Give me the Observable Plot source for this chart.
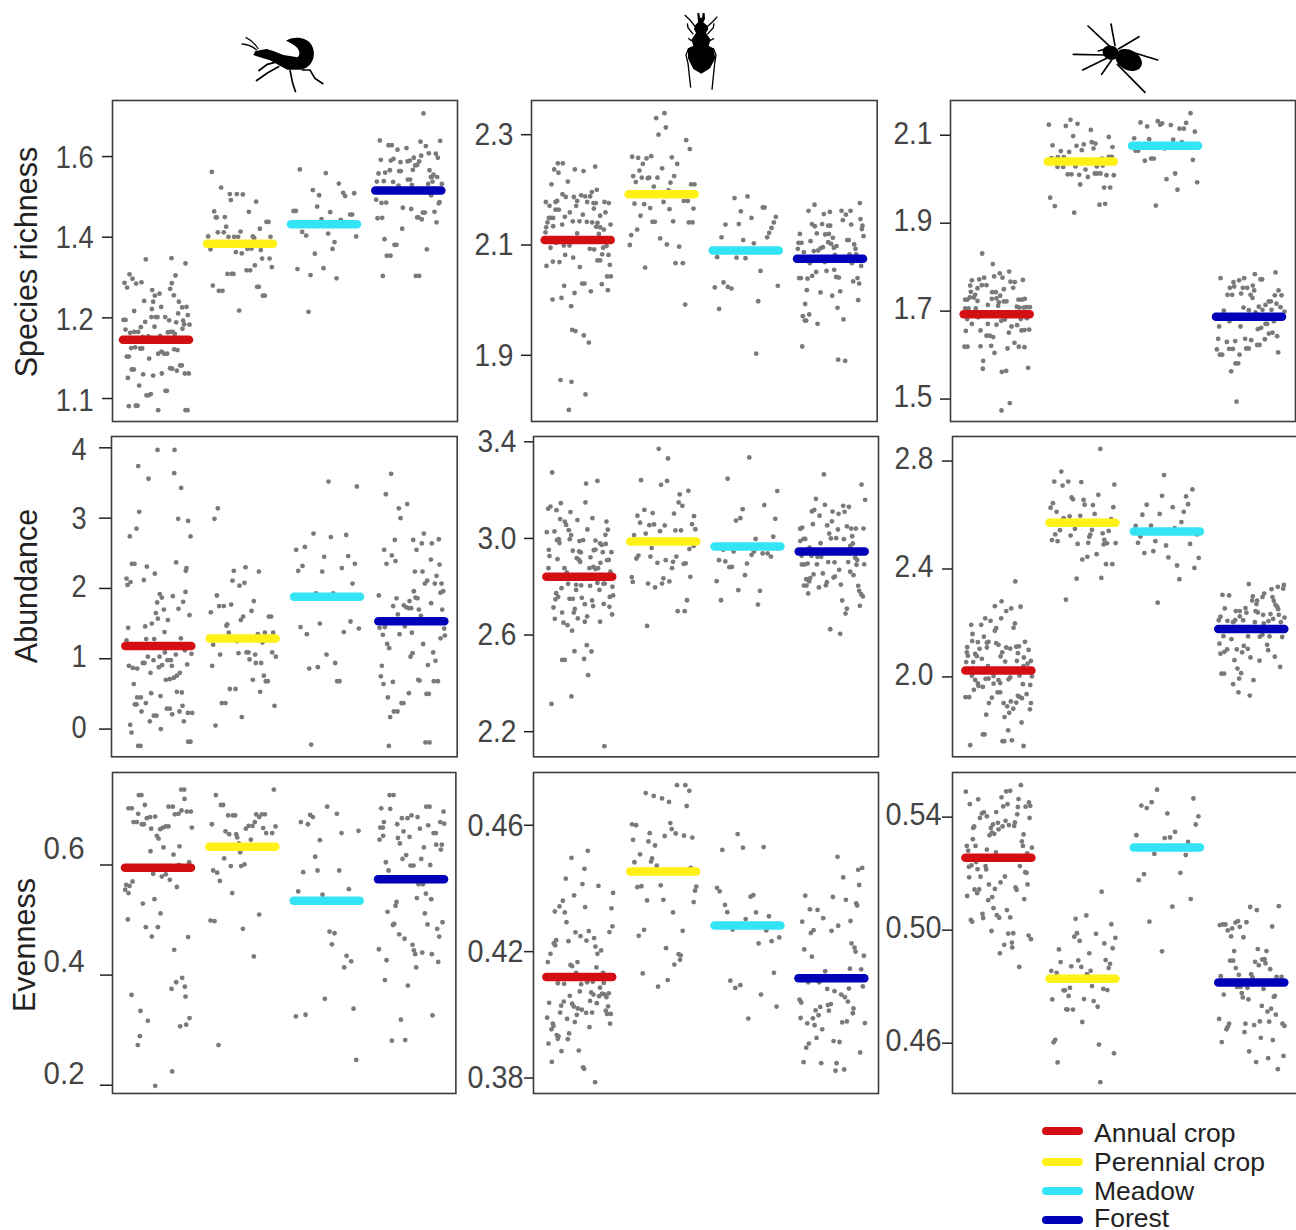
<!DOCTYPE html>
<html><head><meta charset="utf-8">
<script src="https://cdn.jsdelivr.net/npm/d3@7"></script>
<script src="https://cdn.jsdelivr.net/npm/@observablehq/plot@0.6"></script>
<style>
html,body{margin:0;padding:0;background:#fff;width:1296px;height:1230px;overflow:hidden}
#page{position:relative;width:1296px;height:1230px;overflow:hidden}
#page>svg{position:absolute}
.ytitle{position:absolute;font:30.5px "Liberation Sans",Arial,sans-serif;color:#222;white-space:nowrap;transform:translate(-50%,-50%) rotate(-90deg)}
.lg{position:absolute;font:26.5px/20px "Liberation Sans",Arial,sans-serif;color:#222;white-space:nowrap;left:1094px}
.sw{position:absolute;left:1042px;width:41px;height:8px;border-radius:4px}
</style></head><body><div id="page"></div>
<script>
const groups=["Annual crop","Perennial crop","Meadow","Forest"];
const groupColors=["#d40f14","#fff016","#33e4f4","#0000b8"];
const rowTitles=["Species richness","Abundance","Evenness"];

const richnessRove=[13.5,1.345,21.2,1.348,25.4,1.335,8.6,1.308,9.5,1.297,7.1,1.287,7.9,1.275,10.6,1.285,12.2,1.288,22.4,1.305,21.3,1.286,20.8,1.272,15.4,1.269,17.6,1.26,16.2,1.255,21.9,1.256,13,1.242,15.7,1.24,23.4,1.24,15.3,1.222,18.1,1.227,24.4,1.226,25.7,1.227,10,1.217,23.2,1.211,26.1,1.207,6.8,1.195,7.4,1.195,15.2,1.202,16.5,1.202,17,1.202,19.3,1.202,20.5,1.194,22.6,1.189,24.7,1.193,13.3,1.19,12,1.177,16.1,1.178,25,1.184,26.6,1.183,24.5,1.173,7.4,1.171,8.8,1.163,10,1.165,11.2,1.165,20.1,1.164,20.8,1.165,21.6,1.165,22.2,1.16,17.8,1.155,14.2,1.154,12.6,1.153,9.1,1.125,10.3,1.127,11.8,1.124,12.4,1.124,22,1.122,23,1.12,17.2,1.111,18.2,1.116,19,1.111,19.9,1.111,7.8,1.104,8.4,1.104,14.5,1.099,23.8,1.082,24.3,1.082,20.8,1.075,21.4,1.074,22.8,1.069,9.3,1.072,9.9,1.072,12.7,1.06,15.7,1.057,18.3,1.062,25.2,1.062,26.4,1.062,8.1,1.051,11.5,1.032,19.4,1.019,19.8,1.019,15,1.011,14.3,1.008,13.7,1.008,8.4,.981,10.5,.982,11,.982,17.2,.971,25.4,.971,26,.971,
33.3,1.562,36.1,1.523,38.7,1.507,40.8,1.507,42.6,1.506,39,1.492,46.6,1.488,34,1.464,34.5,1.449,34.8,1.449,37.2,1.45,44.4,1.463,37.6,1.426,49.7,1.438,50.3,1.438,47.7,1.421,35.1,1.412,36.9,1.412,41.9,1.414,32.2,1.402,38.3,1.401,40,1.401,41.2,1.401,45.6,1.402,46,1.398,50.9,1.401,32.9,1.37,40.5,1.363,42.3,1.36,44,1.371,45.2,1.372,48,1.368,48.4,1.347,50.6,1.347,51.3,1.326,46.2,1.33,43.7,1.318,44.8,1.318,38,1.309,39.3,1.309,39.8,1.309,33.6,1.28,35.4,1.267,36.5,1.267,46.9,1.277,47.4,1.277,48.6,1.255,49.2,1.255,41.5,1.218,
59.7,1.568,67.5,1.559,71.4,1.533,63.6,1.517,65.5,1.504,72.7,1.51,73.3,1.502,76,1.509,64.9,1.476,57.8,1.465,58.5,1.465,68.8,1.462,74.8,1.456,75.4,1.456,66.2,1.445,72,1.443,60.4,1.413,61.6,1.404,68.2,1.409,76.6,1.402,70.1,1.388,69.5,1.371,64.2,1.359,59,1.321,66.8,1.323,62.9,1.306,70.7,1.298,62.3,1.215,
96.8,1.707,83.7,1.64,86.3,1.628,87.3,1.628,95.9,1.637,97.5,1.626,101.8,1.639,89,1.617,91.7,1.621,98.4,1.608,100.5,1.607,101.1,1.597,96.1,1.602,84,1.592,87,1.59,87.8,1.594,89.9,1.586,92,1.588,92.7,1.59,93.9,1.597,95.5,1.588,94.9,1.579,94.3,1.578,93.6,1.567,89.5,1.564,90,1.564,86.7,1.566,85.3,1.56,83.3,1.558,98.6,1.566,99.8,1.555,99,1.549,99.4,1.55,100.9,1.549,92.1,1.543,92.8,1.543,84.9,1.539,82.8,1.538,87.7,1.537,99.5,1.538,98.2,1.532,102.3,1.532,93.3,1.53,89.3,1.528,99.1,1.504,82.6,1.493,84.2,1.485,85.6,1.486,101.6,1.487,101.4,1.484,90.6,1.473,93.1,1.47,100.1,1.463,96.6,1.461,97.2,1.461,83,1.447,84.4,1.448,94.9,1.449,95.3,1.449,96.3,1.444,100.7,1.437,90.4,1.421,85.1,1.395,88.1,1.381,88.7,1.381,97.8,1.37,85.8,1.354,86.9,1.354,84.6,1.304,94.5,1.304,95.5,1.304];

const richnessBeetle=[9.7,2.248,11.2,2.248,8.6,2.237,9.9,2.231,14.8,2.237,17.4,2.234,20.9,2.242,7.8,2.21,12.7,2.215,21.4,2.2,19.9,2.196,11.1,2.192,12.1,2.187,14.5,2.187,16.7,2.19,17.9,2.188,19.4,2.188,6.1,2.178,7.2,2.171,9,2.178,9.5,2.18,15.5,2.18,15.2,2.171,18.5,2.178,20.4,2.176,21.1,2.176,23.7,2.178,25,2.176,9,2.164,10,2.164,20.5,2.166,24,2.159,17.2,2.155,11.8,2.151,13.3,2.159,22.4,2.153,7,2.149,7.6,2.149,8.3,2.149,6.6,2.141,8.3,2.134,11,2.137,14.2,2.143,16.2,2.143,18.4,2.142,20,2.141,21.6,2.14,22.4,2.132,21.2,2.133,25.5,2.137,6.2,2.132,6,2.123,15.5,2.121,22,2.12,23.5,2.128,7.5,2.095,9.2,2.104,11.5,2.099,13.2,2.099,19.3,2.093,20.6,2.092,23.3,2.095,24.3,2.098,23,2.083,11.9,2.082,14.3,2.077,8.2,2.07,10.2,2.069,6.3,2.062,16.3,2.06,21.6,2.072,22.4,2.072,25.3,2.064,24.9,2.082,24.5,2.043,25.6,2.043,11.6,2.026,17,2.03,17.7,2.03,22.9,2.029,24.7,2.018,19.6,2.016,14.7,2.013,8.1,2.001,10.8,2.004,13.7,1.989,14,1.946,15,1.944,17.5,1.936,19,1.923,10.5,1.855,13.8,1.852,18,1.829,13,1.801,
41.7,2.339,39.2,2.33,42.1,2.313,39.9,2.3,48.2,2.29,49.3,2.274,32,2.26,33.8,2.258,36.3,2.257,37.7,2.261,43.9,2.259,41,2.239,35.2,2.247,45.5,2.247,34.2,2.235,32.3,2.225,34.9,2.222,36.7,2.221,37.1,2.222,39.6,2.222,44.6,2.225,33.1,2.214,43.5,2.213,38.5,2.206,49.7,2.21,50.7,2.21,42.9,2.199,32.7,2.175,35.6,2.174,37.4,2.167,41.4,2.178,43.2,2.165,47.5,2.18,48.7,2.18,50.4,2.166,34.5,2.153,38.1,2.142,38.8,2.142,44.3,2.143,49,2.141,50.1,2.141,33.5,2.128,31.7,2.118,40.4,2.112,42.4,2.101,31.3,2.1,46.1,2.097,45,2.067,47.2,2.067,35.9,2.059,47.9,1.992,
62.7,2.185,66.6,2.188,64.6,2.161,71.2,2.168,71.7,2.168,75.1,2.151,67.8,2.149,74.5,2.141,60,2.137,64,2.138,73.8,2.131,73.1,2.122,72.5,2.114,58.8,2.114,65.3,2.109,68.5,2.103,57.5,2.078,63.3,2.077,66,2.076,70.5,2.053,56.8,2.023,59.4,2.032,60.7,2.024,61.8,2.021,75.7,2.026,69.8,1.998,58.1,1.984,69.2,1.903,
86.7,2.173,84.9,2.162,89.5,2.156,91.3,2.16,94.8,2.162,97.5,2.162,96.1,2.155,100.3,2.176,100.5,2.147,95.2,2.145,97.7,2.137,101.1,2.135,100.9,2.129,85.9,2.138,86.8,2.134,89,2.138,90.8,2.135,91.4,2.135,82.3,2.12,87.4,2.121,89.9,2.119,91,2.12,101.4,2.116,92.2,2.113,96.5,2.109,97,2.109,85.5,2.107,81.9,2.104,82.8,2.104,90.8,2.105,91.7,2.102,93.3,2.098,92.5,2.095,98.6,2.101,81.7,2.093,83.5,2.087,86.5,2.089,87.8,2.09,88.5,2.094,89.2,2.096,99,2.093,92.8,2.082,99.2,2.083,97.2,2.083,85.3,2.067,89.8,2.069,97.9,2.067,100.7,2.062,87.2,2.051,90.3,2.053,92.6,2.055,93.2,2.042,94,2.041,82.1,2.04,82.6,2.04,84.6,2.039,86,2.044,99.6,2.04,98.3,2.034,100.1,2.03,84.4,2.018,88.5,2.014,92,2.008,94.4,2.016,99.8,2,83.9,1.993,93.6,1.986,85.1,1.974,83.2,1.971,83.8,1.963,84.2,1.963,95.4,1.965,87.6,1.957,83,1.916,93.8,1.892,95.9,1.89];

const richnessSpider=[12.5,1.831,15.7,1.807,17.8,1.786,20.6,1.79,16.1,1.779,18.6,1.776,24.7,1.771,9.4,1.77,11.6,1.772,13.1,1.776,21,1.767,22.3,1.766,8.9,1.758,12.4,1.759,13.8,1.759,19,1.75,21.8,1.753,11.1,1.752,9.1,1.744,15.5,1.743,16.6,1.743,10.4,1.737,17.9,1.735,7.4,1.726,8,1.726,8.8,1.731,10,1.731,11.1,1.723,15.4,1.728,16.8,1.729,19,1.722,19.8,1.722,23.4,1.726,24.4,1.726,25.3,1.728,17.5,1.72,17.3,1.712,14.2,1.714,22.9,1.71,23.7,1.708,25,1.708,25.8,1.709,26.8,1.709,7.4,1.706,8.4,1.706,10.6,1.706,8,1.682,11.3,1.686,25.9,1.684,24.1,1.682,16.8,1.669,18.2,1.678,19.3,1.681,9.4,1.671,14.2,1.671,21.3,1.665,23,1.668,7.6,1.655,12,1.656,20.5,1.651,24.3,1.656,25.2,1.657,26.6,1.658,13.8,1.644,14.8,1.644,15.8,1.641,22.2,1.628,7.2,1.619,8.1,1.619,12,1.62,15.2,1.621,20.1,1.615,23.5,1.619,25.2,1.618,16.2,1.605,12.8,1.587,12.7,1.569,18.4,1.562,19.7,1.564,26.3,1.571,20.8,1.491,18.3,1.474,
32.5,2.124,39,2.135,37.6,2.121,41.1,2.126,45.1,2.112,39.8,2.098,50.5,2.096,33.6,2.077,40.8,2.076,43,2.079,45.4,2.084,46.5,2.081,45.9,2.07,51.6,2.073,36.1,2.064,38.6,2.062,42.4,2.066,35.2,2.05,37,2.05,33.3,2.048,48.5,2.047,50.5,2.051,51.4,2.051,35.1,2.028,36.8,2.028,40.5,2.029,48.7,2.031,46.9,2.029,38.2,2.011,39.3,2.011,41.6,2.01,43.5,2.022,44.2,2.005,46.3,2.013,47,2.013,48,2.013,49.8,2.009,52,2.009,41.9,1.988,49.1,1.981,50.9,1.981,32.9,1.958,34.3,1.939,47.7,1.942,49.4,1.944,40.1,1.924,
75,2.15,60,2.129,65.2,2.132,65.9,2.124,66.5,2.127,69.1,2.123,62,2.12,71.7,2.115,73,2.115,73.7,2.128,76.3,2.108,58.1,2.093,62.6,2.091,69.8,2.09,72.4,2.084,67.2,2.07,58.5,2.065,59.3,2.065,61.3,2.042,63.2,2.047,64,2.047,75.7,2.044,67.8,2,70.4,2.013,77,1.993,71.1,1.976,64.6,1.94,
84,1.775,87.9,1.766,89.6,1.77,91.1,1.775,94.3,1.784,96,1.772,96.5,1.772,100.5,1.788,86.8,1.753,88.1,1.756,90.7,1.753,92,1.753,93.7,1.758,94.1,1.747,101.4,1.747,86.1,1.737,87.5,1.737,90.2,1.74,93,1.737,93.6,1.73,100.3,1.736,102.3,1.736,98.5,1.722,99.1,1.722,100.8,1.717,97.5,1.714,90.9,1.708,92.5,1.702,95.5,1.71,96.6,1.703,99.3,1.703,102,1.709,103.2,1.699,85,1.701,94.5,1.697,86.7,1.677,90,1.665,97.5,1.671,98,1.671,96.2,1.662,95.2,1.659,100,1.677,83.6,1.665,98.5,1.649,99.6,1.651,101,1.643,83.3,1.637,91.4,1.637,93.2,1.634,85.9,1.63,88.4,1.632,97.3,1.636,95,1.623,95.7,1.623,86.6,1.614,87.7,1.614,91.7,1.615,92.5,1.615,82.9,1.613,83.8,1.601,84.5,1.601,89.7,1.601,101.3,1.606,88.5,1.581,89.3,1.581,87.2,1.563,88.8,1.494];

const abundanceRove=[17.1,3.97,22.2,3.97,11.3,3.74,22.1,3.64,14.4,3.56,24.2,3.43,11.6,3.09,23.3,2.99,26.3,2.96,10.8,2.85,8.8,2.74,27,2.74,22.7,2.37,9.4,2.35,10.2,2.35,13.9,2.31,25.8,2.29,25.6,2.25,16.3,2.21,7.8,2.14,9,2.09,8.1,2.05,13,2.12,17.8,1.92,18.4,1.87,21.7,1.89,25.5,1.95,17,1.8,24.8,1.81,19,1.7,23.4,1.71,16.6,1.65,26.7,1.62,17.2,1.57,20.2,1.55,13.4,1.46,15.4,1.5,8.3,1.44,19.2,1.38,13.7,1.28,16.1,1.28,24.1,1.29,7.8,1.26,19.3,1.09,25.3,1.12,27.3,1.07,22.6,1.06,14.2,1.03,17.7,1.03,15.9,.98,12.7,.94,13.2,.94,20.1,.98,21.1,.98,26,.92,8.5,.9,9.7,.87,11,.86,18.5,.91,17.5,.88,21.4,.9,15,.8,23.8,.8,22.9,.76,22,.73,20.8,.71,19.6,.7,10,.64,22.9,.53,24.4,.52,15.2,.51,18,.47,11,.45,12.1,.45,10.3,.35,10.8,.35,13.6,.37,24.6,.33,19.9,.29,20.8,.29,12.3,.25,21.5,.21,23.7,.25,26.2,.23,27.5,.23,16,.19,16.8,.19,14.8,.11,25,.11,8.9,.06,18.1,0,9.3,-.05,11.3,-.24,12,-.24,26.3,-.18,27,-.18,
35.2,3.14,34.2,2.99,40,2.25,43.5,2.3,47.5,2.24,39.6,2.11,41.7,2.04,43.2,2.08,34.9,1.9,46,1.82,35.6,1.75,37,1.75,39.2,1.77,33.1,1.66,45.3,1.68,42.8,1.6,42.1,1.55,50.5,1.6,51.2,1.6,38,1.49,37.8,1.47,38.5,1.37,47.2,1.35,49.3,1.37,51.8,1.37,33.8,1.2,48.6,1.23,41,1.25,35.9,1.06,41.4,1.08,43.8,1.09,44.4,1.09,46.4,1.06,51.5,1.09,52.6,1.03,44.7,.99,46.6,.94,48.2,.94,33.5,.9,49,.76,45.7,.7,49.6,.68,50.2,.68,38.8,.57,40.5,.57,47.9,.53,36.4,.37,37.5,.37,52.2,.33,42.4,.17,34.5,.05,
68.4,3.52,76.9,3.45,63.9,2.78,69.1,2.73,73.7,2.76,58.7,2.55,61.3,2.59,67.1,2.45,74.3,2.46,60.6,2.32,59.3,2.25,66.5,2.24,72.4,2.29,76.3,2.35,75.6,2.07,64.6,1.93,69.8,1.93,60,1.45,65.8,1.5,61.9,1.35,73,1.38,75,1.53,77.5,1.43,67.8,1.06,70.4,.94,62.6,.86,65.2,.88,71,.68,71.7,.68,63.2,-.22,
87.2,3.63,85.6,3.34,92,3.2,89.5,3.14,90,3,88.3,2.69,93.8,2.69,97,2.78,96.4,2.64,99.4,2.64,101.5,2.7,85.1,2.55,94.8,2.55,87.4,2.47,88.5,2.39,85.8,2.35,99.1,2.41,101.7,2.34,94.3,2.24,96.6,2.24,100.8,2.18,98,2.11,97.3,2.07,100.3,2.07,102.3,2.07,94,1.96,102,1.94,102.8,1.96,83.5,1.9,88.8,1.86,94.5,1.87,95.1,1.86,92.7,1.82,99.2,1.79,87.8,1.75,91,1.76,91.8,1.73,92.5,1.72,93.2,1.72,95.5,1.7,102.5,1.7,89.2,1.63,96.1,1.61,83.7,1.44,85.3,1.45,91.3,1.46,84.7,1.34,89.7,1.35,93.4,1.37,103.1,1.43,103.3,1.33,102,1.29,86,1.21,86.6,1.15,96.8,1.21,93.6,1.08,93,1.03,99.8,1.09,100.5,.97,84.4,.9,98.2,.91,84.1,.75,84.9,.64,87.7,.67,95.3,.7,95.7,.69,100,.68,101.2,.68,92.5,.51,97.8,.5,98.5,.5,86.2,.45,90.3,.37,90.9,.37,88,.25,89.1,.25,86.9,.17,86.5,-.24,97.5,-.19,98.7,-.19];

const abundanceBeetle=[8,3.273,18.2,3.227,21.6,3.238,18,3.149,10.6,3.146,6.8,3.123,7.5,3.132,9.3,3.117,13.5,3.109,10.4,3.08,15.6,3.076,20.1,3.084,24.3,3.07,11.8,3.07,12.2,3.056,24.7,3.036,18.6,3.037,13,3.034,6.4,3.026,8.7,3.029,13.7,3.014,24,3.015,9.5,2.993,10,2.997,10.2,2.981,13.3,2.997,16.2,2.989,17.3,2.993,21,2.991,22.4,2.979,22.9,2.973,24.1,2.977,21,2.954,20.5,2.951,7,2.953,14.2,2.949,16.1,2.946,16.6,2.942,23.2,2.943,25.8,2.943,7.2,2.927,9.6,2.914,15.4,2.918,16.1,2.911,16.4,2.903,19.5,2.922,24.5,2.91,25,2.911,22.5,2.899,6.9,2.877,11.7,2.877,19.2,2.877,20.4,2.882,21,2.873,21.8,2.877,12.4,2.859,25.5,2.862,10.8,2.794,12.8,2.812,15.2,2.808,15.2,2.787,16.7,2.806,19.4,2.804,21.6,2.816,23.4,2.812,22.2,2.787,23.8,2.813,26.1,2.8,9.2,2.773,9.8,2.758,9,2.748,13.2,2.75,14.2,2.75,16.9,2.754,20,2.743,25.3,2.758,26.3,2.764,8.4,2.714,17.8,2.728,20.3,2.72,23.5,2.729,25.2,2.717,14.8,2.708,14.5,2.693,11,2.693,26,2.685,8.8,2.667,15.7,2.669,18.5,2.677,17.8,2.655,22.4,2.655,11.4,2.651,12.6,2.641,14,2.618,18.4,2.558,14.7,2.533,19.8,2.532,11,2.497,11.8,2.497,17.6,2.501,18.8,2.434,13.8,2.346,7.8,2.315,23.7,2.14,
40,3.371,42.8,3.331,34.7,3.241,40.7,3.222,42.5,3.238,48.9,3.197,46.3,3.182,46,3.149,47.1,3.135,44.6,3.103,35.7,3.118,38.2,3.105,33.6,3.094,50.6,3.092,34.4,3.065,37.2,3.055,38.6,3.058,41.8,3.054,50,3.059,51,3.038,40.4,3.03,45,3.033,46.7,3.033,36.1,3.02,32.6,3.014,37.9,2.96,49.2,2.956,50.5,2.969,33.9,2.929,33.3,2.917,37.5,2.925,45.3,2.925,42.1,2.91,39.6,2.899,44.3,2.903,44,2.877,47.5,2.895,48.1,2.897,31.9,2.84,49.5,2.841,32.2,2.82,41.4,2.835,43.2,2.822,36.8,2.813,41,2.813,38.9,2.797,48.5,2.744,45.7,2.699,47.8,2.699,36.5,2.638,
67.2,3.335,60.7,3.247,75.6,3.196,71.7,3.138,65.2,3.121,64.5,3.084,63.2,3.074,75,3.081,69.1,2.998,74.4,3.007,62.5,2.946,59.4,2.953,68.6,2.946,67.9,2.932,71.2,2.938,72.7,2.938,73.7,2.925,58.1,2.91,60,2.905,61.2,2.881,62,2.882,66.5,2.896,65.9,2.848,57.4,2.823,63.9,2.786,70.4,2.783,58.7,2.744,69.8,2.726,
89.6,3.265,100.9,3.223,87.2,3.164,102,3.16,89.9,3.139,95.4,3.135,97.1,3.131,86.7,3.118,86,3.112,92.2,3.111,95.8,3.11,94,3.102,88.3,3.094,92,3.071,86.3,3.059,90.6,3.054,82.5,3.04,83.1,3.045,96.5,3.05,97.8,3.041,99.2,3.041,101.5,3.041,93.8,3.037,91.2,3.02,98.1,3.009,91.7,3,93.3,3.001,95.6,2.997,82.5,2.989,83.5,2.998,84,2.998,88.6,2.98,98.3,2.979,97.5,2.969,85.3,2.962,82.9,2.928,85.9,2.928,87.7,2.924,88.8,2.924,99,2.92,99.6,2.911,83,2.892,83.8,2.892,84.7,2.896,87.5,2.893,90.9,2.902,92.8,2.901,96.9,2.902,99.4,2.891,101.7,2.893,94.2,2.87,97.5,2.862,98.5,2.848,86.5,2.851,85.5,2.836,84.3,2.831,92.9,2.842,92.5,2.838,89.3,2.855,90.5,2.819,85.2,2.822,83.6,2.805,84.4,2.805,88.1,2.797,90.2,2.806,94.7,2.809,99.9,2.804,100.2,2.783,100.8,2.769,101.3,2.76,84.9,2.772,95.1,2.743,100.4,2.721,96.5,2.709,96.1,2.689,91.5,2.624,94.5,2.605];

const abundanceSpider=[22.5,2.354,18.4,2.28,16.4,2.262,24.1,2.26,21.3,2.254,19.8,2.244,13.5,2.217,18.3,2.217,15.1,2.208,9.3,2.193,12.3,2.193,22.4,2.198,22,2.182,16.8,2.181,16.4,2.171,9.7,2.159,13.1,2.149,9.6,2.133,11.3,2.129,14.5,2.13,14,2.127,16.8,2.125,17.5,2.119,25.4,2.13,8.1,2.11,14,2.109,11.8,2.104,19.8,2.109,21,2.105,22.8,2.112,23.6,2.113,26.5,2.1,8,2.091,8.3,2.078,10.5,2.085,11,2.077,18.6,2.091,23.3,2.088,18.1,2.076,12.5,2.067,25.1,2.072,7.8,2.055,9.9,2.055,19.5,2.057,23,2.059,27.2,2.059,26.2,2.049,14.3,2.04,25,2.04,9.5,2.004,27.5,2.002,23.8,2.005,10.5,1.989,13.6,1.993,14.5,1.994,16,2.003,17.5,1.988,18,1.977,20.5,1.991,21,1.998,11.3,1.976,11.5,1.966,12.8,1.963,16,1.975,24.8,1.973,27,1.97,10.1,1.952,17.2,1.943,18,1.943,7.6,1.925,8.7,1.925,15.5,1.923,23.3,1.93,23.8,1.926,24.5,1.921,25.9,1.936,14.6,1.903,19,1.903,20.1,1.891,21.2,1.909,22.8,1.905,27.2,1.903,21.9,1.882,26.9,1.88,20.7,1.867,13.8,1.86,19.3,1.851,24.4,1.831,20.4,1.802,12.8,1.787,13.3,1.787,18.7,1.762,19.2,1.762,21.5,1.765,9,1.747,25,1.744,
48,2.845,36.3,2.761,34.2,2.724,38.4,2.724,42.3,2.722,36.7,2.709,52.2,2.713,47.4,2.675,39.4,2.665,39.8,2.658,43,2.656,43.3,2.638,45.8,2.637,33.8,2.644,33.1,2.627,51.9,2.629,34.9,2.612,38.8,2.595,42,2.597,37,2.588,46.3,2.604,51.2,2.585,40.4,2.549,45.5,2.545,35.9,2.544,34.5,2.528,39.1,2.524,45,2.527,44.7,2.519,48.7,2.532,50.5,2.541,49.2,2.508,33.5,2.507,35.2,2.503,41.2,2.493,44.4,2.497,49,2.491,50,2.495,52.6,2.496,46.9,2.455,44.1,2.445,42.6,2.435,49.7,2.418,51.6,2.418,40.9,2.364,48.3,2.367,37.7,2.286,
67.1,2.748,75.6,2.695,66.5,2.671,73.7,2.669,74.3,2.64,61.9,2.638,69.7,2.629,73,2.612,60.6,2.601,65.8,2.604,72.3,2.574,58.6,2.56,63.2,2.561,70.3,2.551,60,2.52,77,2.528,64.5,2.503,59.3,2.497,67.7,2.487,74.9,2.493,63.9,2.466,61.2,2.459,68.4,2.443,77.5,2.441,71,2.413,76.2,2.404,71.7,2.362,65.2,2.275,
92.5,2.344,103,2.341,102.8,2.327,101.2,2.334,99.3,2.325,84.6,2.304,86.6,2.302,97.1,2.309,96.6,2.296,99.6,2.296,93.7,2.298,93.5,2.283,95,2.283,94.8,2.27,100,2.282,100.5,2.267,101,2.26,85.3,2.254,88.6,2.244,89.8,2.244,91.5,2.255,94.5,2.244,95.2,2.239,101.3,2.251,101.5,2.23,103.2,2.22,96.8,2.23,99,2.233,91.8,2.238,89.8,2.224,84,2.223,83.5,2.21,86.1,2.208,88.4,2.21,90.8,2.21,87.8,2.203,94.3,2.203,98.4,2.207,99.8,2.215,102.1,2.203,97,2.198,84.9,2.151,92.3,2.15,95.8,2.149,96.6,2.156,98.7,2.15,102.5,2.148,87.3,2.14,83.7,2.123,91,2.115,98,2.119,92.2,2.104,86,2.102,85.2,2.093,88.9,2.102,84,2.086,90.5,2.091,98.3,2.099,100.3,2.075,93,2.072,95.7,2.06,88.2,2.062,101.9,2.037,89.1,2.031,90.2,2.014,84.3,2.012,85.1,2.012,89.6,1.994,93.9,1.988,87.8,1.973,89.4,1.943,92.8,1.931];

const evennessRove=[24.3,.737,25.2,.737,11.6,.727,12.4,.727,25.3,.72,13.4,.709,8.5,.703,9.5,.703,20.5,.706,21.8,.706,24.4,.699,22.4,.692,23.5,.693,26,.697,27.2,.697,11.4,.693,14,.685,15,.687,16.5,.688,10,.678,11,.678,12.5,.674,13.1,.674,15.3,.666,18,.665,18.8,.668,19.7,.67,20.5,.67,27.5,.668,17,.653,17.5,.648,19,.632,23.8,.634,15.1,.625,22,.619,26.7,.605,23.6,.6,18,.598,15.9,.584,18.5,.579,19.7,.583,20.9,.573,9.7,.57,7.8,.564,8.8,.562,23,.56,7.5,.555,8.5,.549,12.8,.53,16.3,.538,18.1,.512,8.3,.501,13.7,.487,17.3,.487,15.5,.47,26.4,.469,22.2,.446,24.6,.395,22.8,.387,21.4,.375,25.4,.379,9.4,.364,25.6,.361,12.1,.335,14.3,.317,26.8,.322,24,.307,25.8,.31,11.9,.289,11.3,.273,21.6,.225,16.5,.199,
52.1,.737,34.7,.727,36.2,.709,36.9,.709,38.4,.69,39.8,.69,40.5,.69,46.8,.692,47.7,.687,48.5,.692,49.4,.692,33.5,.674,46.4,.678,44.5,.671,45.7,.671,43.7,.666,48.9,.667,52.6,.67,37.6,.661,38.7,.656,40.8,.656,41.1,.65,49.8,.658,51.6,.658,45.2,.646,41.6,.639,42,.623,37.2,.612,39.2,.598,42.3,.598,43.3,.601,33.9,.59,35.1,.586,35.9,.571,39.6,.549,33.1,.499,34.3,.498,47.7,.51,42.8,.484,46.1,.434,35.5,.273,
68.1,.706,63,.691,63.8,.687,71,.693,60.2,.678,62.3,.674,77.5,.662,72.4,.658,65.9,.645,64.5,.615,60.9,.587,65.2,.59,71.7,.59,59.4,.552,66.7,.546,74.6,.556,68.8,.479,70.3,.476,69.5,.456,73.9,.435,75.3,.425,73.2,.414,67.4,.357,76,.339,58.7,.325,61.6,.328,76.8,.246,
86.8,.727,88,.727,97.8,.706,98.8,.706,84.3,.703,87,.702,103,.697,90.5,.685,92.2,.685,93.4,.69,95.2,.687,85.1,.678,89.1,.674,98.4,.672,102,.678,103.2,.675,84,.668,84.8,.668,95.9,.666,91,.661,100,.658,100.7,.658,84.9,.653,83.8,.646,89.3,.649,92.8,.651,89.9,.639,97.1,.632,100.8,.637,102.5,.637,102.2,.628,91.8,.618,90.7,.611,96.3,.611,85.7,.605,93.1,.599,94,.599,99,.6,86.5,.59,95.5,.565,96.8,.565,97.7,.548,95,.54,99.3,.538,88.9,.533,88.6,.526,86.2,.515,97.4,.512,88.2,.493,87.8,.491,98.2,.492,102.7,.496,101.1,.484,89.7,.474,91.3,.466,101.7,.47,93.7,.455,94.1,.445,94.5,.438,83.6,.447,96.6,.441,99.5,.438,85.9,.427,101.4,.424,94.8,.414,85.4,.391,92.3,.381,90.2,.319,99.7,.327,87.5,.281,91.5,.282];

const evennessBeetle=[18.7,.4519,13.8,.4497,17.7,.4462,12.1,.4431,17.1,.4414,21.9,.4408,26.3,.4386,14.6,.4378,11.2,.4361,10.2,.4343,8.8,.4327,11.8,.4324,17.9,.4341,25.8,.4337,12.3,.4293,26.1,.428,25.2,.4262,15,.4261,16.5,.4249,19,.4265,18.3,.4235,20.6,.4243,12.9,.4233,9.2,.4236,8.5,.4226,8.9,.422,21,.4216,22.7,.4204,21.6,.4193,7.5,.4193,6.7,.4167,13.5,.4158,14,.4154,15.6,.4167,21.3,.415,15.2,.4133,23.3,.4133,9.7,.41,11.6,.4098,16.7,.4097,18.5,.4103,20.2,.4105,23.5,.4101,22.4,.4086,16.3,.4074,19.7,.4071,20.4,.4064,13.3,.406,22.1,.4059,23,.4067,23.7,.4065,25,.4068,24.3,.4056,19.4,.4044,11.5,.4042,7.1,.4038,10.7,.4029,21.4,.4037,14,.4035,14.5,.4026,15.7,.402,16.9,.4016,18.2,.4006,20,.4007,10.4,.4007,24.8,.4027,24.1,.4013,24.5,.4003,25.6,.4003,15.4,.4,12.5,.3987,6.5,.3991,14.8,.3977,25.4,.3972,8.2,.3972,8.4,.3965,7.8,.3954,19.2,.3961,13.1,.3941,9.4,.3936,9.9,.3932,9.7,.3924,12.7,.3923,6.9,.3909,10.8,.3885,16,.3887,7.9,.3851,17.3,.3834,17.6,.3829,20.9,.3787,
45.5,.4727,48,.4727,49.2,.4709,36.1,.4702,38.5,.4693,41,.4685,43.1,.4674,48.4,.4661,32,.4603,33.2,.4600,43.5,.4607,43.9,.4588,37.3,.4575,45.1,.4574,41.8,.4566,47.6,.4567,50.1,.4561,32.3,.4554,36.9,.4549,38.9,.4536,34.4,.4508,38,.4495,37.7,.4485,32.7,.4483,39.4,.4472,49.6,.4465,33.6,.4404,34.8,.4407,40.6,.441,51.3,.4406,50.9,.4393,36.5,.4362,41.4,.4364,50.5,.4357,44.3,.4324,35.6,.4269,34,.425,47.2,.4266,42.2,.4211,46,.4192,46.6,.4188,46.4,.4174,44.7,.4159,35.2,.4131,42.7,.411,39.8,.4089,
63.7,.4572,59.1,.4522,65.3,.4529,71.5,.4531,57.5,.4402,58.3,.4391,67.6,.4374,68.4,.4379,59.9,.4348,60.6,.4325,69.2,.4324,73.1,.4312,66.1,.4303,62.2,.4270,72.3,.4267,76.2,.4245,73.9,.4233,70,.4226,74.6,.4133,61.5,.4108,63,.4085,64.5,.4094,70.7,.4064,75.4,.4026,66.9,.3988,
93.7,.45,101.1,.4465,99.9,.4459,95.4,.4435,100.2,.4411,84,.4377,92.3,.4373,96.2,.4364,99.3,.4353,99.6,.4346,85.4,.4334,87.7,.4332,89.4,.4306,83.1,.4295,97.6,.4297,93.9,.4282,91.9,.4266,86.5,.4268,85.7,.4259,97.9,.4226,98.8,.4213,99.1,.42,83.7,.4207,86,.4184,101.6,.4187,90,.4138,97.4,.4146,100.8,.4144,84.9,.4103,88.2,.4103,90.6,.4082,92.8,.4075,97.1,.4083,101.3,.409,94.8,.4064,95.9,.4056,96.8,.4042,82.3,.4048,82.8,.4039,90.8,.4031,91.7,.4034,88.5,.4025,87.1,.4014,91.1,.4013,98.5,.402,98.3,.4005,88,.3999,82.6,.399,86.3,.3989,84.6,.3973,86.8,.3967,95.1,.3976,96.5,.3979,101.9,.3974,89.1,.3954,87.4,.3927,92.5,.3917,94.3,.3914,84.3,.3896,85.1,.3909,100.5,.3881,83.5,.385,88.8,.3847,93.4,.3847,93.1,.3823,95.7,.3827];

const evennessSpider=[24.2,.5513,7.7,.549,19.8,.5491,21,.5493,18.4,.547,11.4,.5463,23.5,.5464,8.9,.5446,20.2,.5446,26.6,.5452,27,.544,18.9,.5438,23.3,.5436,25.6,.5437,13.1,.5417,12.5,.5413,16.8,.5418,23.1,.541,14,.5403,11.9,.5397,26.8,.5397,19.6,.5387,17.3,.538,15.8,.5374,22.4,.5381,22.2,.5369,20.6,.5372,18.7,.5367,17.5,.5357,15.2,.5362,10.2,.5367,9.9,.5362,14.8,.5336,16.2,.5341,15.5,.5345,25,.5339,9.8,.5322,24.5,.5314,24.8,.5298,8,.5298,10.6,.5298,27.5,.5292,8.4,.5281,14,.5285,16.7,.5275,26.1,.5272,10.8,.5241,8.6,.5224,9.4,.5229,13.6,.5227,13.8,.5215,11.2,.5216,23.9,.5227,25.5,.5205,25.9,.5203,8.7,.5187,12.1,.5189,19.4,.519,14.6,.5162,18.1,.5169,26.2,.5162,10.3,.5144,11.7,.5144,11.1,.5131,16.4,.5146,22.6,.5151,22.9,.5143,8.1,.5121,15.6,.5117,14.4,.5106,25.2,.511,16,.5078,20,.5071,12.7,.5058,12.9,.5043,17,.5053,17.7,.5044,21,.5045,9.2,.5036,9.6,.503,15.4,.4997,20.4,.4988,21.9,.4989,26.5,.4981,27.2,.4968,21.5,.4956,21.6,.4939,19.2,.4948,17.9,.4918,23.7,.487,
48.4,.5136,43.8,.5052,40.6,.504,51.3,.5021,41,.4989,40.2,.4977,46.7,.4987,41.8,.4962,52.5,.4973,49.2,.4953,35.6,.4932,51.7,.4936,44.7,.4918,36.1,.4887,41.4,.4893,49.6,.4894,50.9,.4881,39.3,.4872,42.3,.487,50.5,.4866,33.3,.4856,34.9,.4849,45.1,.4856,44,.4844,38.9,.4796,45.5,.4802,37,.4787,37.4,.4787,48.9,.4792,50.1,.4788,38.5,.4767,33.6,.4755,43.1,.4756,46,.4749,47.2,.4729,37.8,.4720,38.2,.4719,39.8,.4719,42.6,.4675,34,.4603,34.5,.4612,47.6,.4595,52.1,.4564,35.2,.4532,48,.4462,
65,.5497,75.9,.5466,63.4,.5453,60.3,.5441,61.9,.5432,68.1,.5413,77.4,.5403,76.6,.5374,58.8,.5336,70.4,.5348,67.3,.5326,68.9,.5328,74.3,.5312,64.2,.527,73.6,.5266,61.1,.5198,59.5,.5177,72,.5203,75.1,.511,69.6,.5083,62.7,.503,66.5,.4925,
92.9,.5082,94.9,.5071,101.5,.5085,83.8,.5018,84.7,.5020,85.5,.502,88.5,.5027,89.3,.5032,91.8,.5028,89.8,.5012,87.5,.5006,86.2,.4999,99.5,.5013,87.2,.4978,90.9,.4975,88.1,.4926,95.2,.4933,97.8,.4926,86.9,.4892,87.8,.4892,94.4,.4888,96.5,.4896,97.2,.4897,97.5,.4883,95.5,.4876,88.6,.4866,98.9,.4862,89.5,.4842,93.2,.4844,93.6,.4833,84.1,.4837,100.8,.4835,102.3,.4835,89,.4799,90,.4799,92.1,.4796,96.9,.4792,90.4,.4777,90.7,.4762,85,.4772,92.4,.4755,100,.4764,100.3,.4767,96.4,.4732,99.2,.4722,98.1,.4712,100.6,.4701,83.6,.4686,91.5,.4669,95.8,.4677,98.6,.4676,94.1,.4664,86.6,.4669,86.2,.4658,85.8,.4649,102.6,.4669,103.2,.4661,91.2,.4639,96.1,.4619,84.4,.4604,99.7,.4611,92.6,.4571,102.9,.4555,94.7,.4533,98.3,.4547,101.2,.4508];

// Group means (one per colour) and the jitter position each group is centred on.
const richnessRoveMeans=[1.146,1.384,1.432,1.516], richnessRoveCentres=[16.7,41.9,67.1,92.4];
const richnessBeetleMeans=[2.109,2.192,2.09,2.075], richnessBeetleCentres=[15.8,41,66.2,91.5];
const richnessSpiderMeans=[1.693,2.04,2.076,1.687], richnessSpiderCentres=[17,42.2,67.5,92.7];
const abundanceRoveMeans=[1.18,1.289,1.882,1.535], abundanceRoveCentres=[17.5,42.8,68.1,93.4];
const abundanceBeetleMeans=[2.841,2.987,2.967,2.946], abundanceBeetleCentres=[16.3,41.5,66.8,92.1];
const abundanceSpiderMeans=[2.024,2.571,2.539,2.178], abundanceSpiderCentres=[17.6,42.8,68.1,93.4];
const evennessRoveMeans=[.595,.633,.535,.574], evennessRoveCentres=[17.5,42.8,68.1,93.4];
const evennessBeetleMeans=[.412,.4454,.4283,.4116], evennessBeetleCentres=[16.3,41.5,66.8,92];
const evennessSpiderMeans=[.5256,.4828,.5293,.4815], evennessSpiderCentres=[17.6,42.8,68.1,93.4];

const panels=[
 {pts:richnessRove,means:richnessRoveMeans,centres:richnessRoveCentres,box:[111.7,100,456.7,421],xd:[3.5,107],yd:[.943,1.739],ticks:[1,1.2,1.4,1.6],labels:["1.1","1.2","1.4","1.6"],gap:19,dy:[2,2,1,1],size:10,narrow:.85},
 {pts:richnessBeetle,means:richnessBeetleMeans,centres:richnessBeetleCentres,box:[531,100,876.7,421],xd:[1.8,105.5],yd:[1.78,2.362],ticks:[1.9,2.1,2.3],labels:["1.9","2.1","2.3"],gap:18,dy:[0,0,0],size:10,narrow:.88},
 {pts:richnessSpider,means:richnessSpiderMeans,centres:richnessSpiderCentres,box:[950,100,1295,421],xd:[3,106.5],yd:[1.449,2.179],ticks:[1.5,1.7,1.9,2.1],labels:["1.5","1.7","1.9","2.1"],gap:18,dy:[-2,-2,-2,-1],size:10,narrow:.88},
 {pts:abundanceRove,means:abundanceRoveMeans,centres:abundanceRoveCentres,box:[111,435.7,456.7,756],xd:[3.3,107],yd:[-.394,4.161],ticks:[0,1,2,3,4],labels:["0","1","2","3","4"],gap:25,dy:[-1,-2,-2,1,2],size:12,narrow:.85},
 {pts:abundanceBeetle,means:abundanceBeetleMeans,centres:abundanceBeetleCentres,box:[533,435.7,878,756],xd:[2.4,106],yd:[2.096,3.422],ticks:[2.2,2.6,3,3.4],labels:["2.2","2.6","3.0","3.4"],gap:17,dy:[0,0,0,0],size:9,narrow:.88},
 {pts:abundanceSpider,means:abundanceSpiderMeans,centres:abundanceSpiderCentres,box:[952.3,435.7,1297,756],xd:[3.7,107],yd:[1.704,2.891],ticks:[2,2.4,2.8],labels:["2.0","2.4","2.8"],gap:19,dy:[-2,-2,-2],size:10,narrow:.88},
 {pts:evennessRove,means:evennessRoveMeans,centres:evennessRoveCentres,box:[112.3,772,455.7,1093],xd:[3.7,106.7],yd:[.185,.768],ticks:[.2,.4,.6],labels:["0.2","0.4","0.6"],gap:28,dy:[-11,-13,-16],size:12,narrow:.92},
 {pts:evennessBeetle,means:evennessBeetleMeans,centres:evennessBeetleCentres,box:[533,772,878,1093],xd:[2.4,106],yd:[.3751,.4767],ticks:[.38,.42,.46],labels:["0.38","0.42","0.46"],gap:10,dy:[0,0,0],size:9,narrow:.9},
 {pts:evennessSpider,means:evennessSpiderMeans,centres:evennessSpiderCentres,box:[952.3,772,1297,1093],xd:[3.7,107],yd:[.4422,.5558],ticks:[.46,.5,.54],labels:["0.46","0.50","0.54"],gap:11,dy:[-2,-2,-2],size:10,narrow:.9}
];

const page=document.getElementById("page");
const ML=100,MR=3,MT=3,MB=3;
const pairs=f=>d3.range(0,f.length,2).map(i=>({x:f[i],y:f[i+1]}));
const BAR_HALF=9.9;
const tickFont="'Liberation Sans',Arial,sans-serif";

for(const p of panels){
  const [l,t,r,b]=p.box;
  const w=r-l,h=b-t;
  const barRows=p.means.map((m,i)=>({m,c:p.centres[i],g:groups[i]}));
  const svg=Plot.plot({
    width:w+ML+MR,height:h+MT+MB,marginLeft:ML,marginRight:MR,marginTop:MT,marginBottom:MB,
    x:{domain:p.xd,axis:null},
    y:{domain:p.yd,label:null},
    color:{domain:groups,range:groupColors},
    marks:[
      Plot.dot(pairs(p.pts),{x:"x",y:"y",r:2.4,fill:"#7a7a7a",stroke:"none"}),
      Plot.ruleY(barRows,{y:"m",x1:d=>d.c-BAR_HALF,x2:d=>d.c+BAR_HALF,stroke:"g",strokeWidth:8.5,strokeLinecap:"round"}),
      Plot.frame({stroke:"#3c3c3c",strokeWidth:1.6}),
      Plot.axisY(p.ticks,{tickSize:p.size,tickFormat:()=>"",stroke:"#222",strokeWidth:1.5,label:null}),
      ...p.ticks.map((v,i)=>Plot.text([{v,label:p.labels[i]}],{x:()=>p.xd[0],y:"v",text:"label",dx:-p.gap,dy:p.dy[i],textAnchor:"end",fill:"#444",fontSize:32,fontFamily:tickFont}))
    ]
  });
  svg.style.left=(l-ML)+"px";
  svg.style.top=(t-MT)+"px";
  svg.style.background="transparent";
  svg.style.overflow="visible";
  page.appendChild(svg);
  // the reference's tick font is condensed: narrow the glyphs of the real text
  svg.querySelectorAll("text").forEach(el=>{
    const n=el.textContent.trim();
    if(!n) return;
    const len=el.getComputedTextLength();
    el.setAttribute("textLength",(len*p.narrow).toFixed(1));
    el.setAttribute("lengthAdjust","spacingAndGlyphs");
  });
}

// axis titles
[[rowTitles[0],26,262],[rowTitles[1],26,586],[rowTitles[2],24,945]].forEach(([txt,x,y])=>{
  const d=document.createElement("div");d.className="ytitle";d.textContent=txt;d.style.left=x+"px";d.style.top=y+"px";page.appendChild(d);
});
// legend
const legendTextY=[1133,1162,1191,1218];
[1131,1162,1191,1220].forEach((y,i)=>{
  const s=document.createElement("div");s.className="sw";s.style.top=(y-4)+"px";s.style.background=groupColors[i];page.appendChild(s);
  const d=document.createElement("div");d.className="lg";d.style.top=(legendTextY[i]-10)+"px";d.textContent=groups[i];page.appendChild(d);
});
// taxon silhouettes
const icons=[
 {left:230,top:5,w:110,h:92,vb:"0 0 330 276",body:`<path fill="#000" d="M70 150L76 138L110 132L130 138L160 150L203 157C216 142 205 122 168 107C190 93 232 95 246 122C262 155 242 190 212 194L172 194L150 182L120 166L85 155Z"/><g fill="none" stroke="#000" stroke-width="4"><path d="M85 132Q70 108 47 97M80 135Q60 118 35 117"/><path stroke-width="5" d="M135 172L112 178L85 198M148 184L112 204L78 228M180 195L188 235L197 262M215 195L240 195L255 220L280 237"/></g>`},
 {left:660,top:5,w:80,h:92,vb:"0 0 240 276",body:`<path fill="#000" d="M112 24L118 24L120 38L126 38L128 24L134 24L135 42L130 52L142 62L145 72L138 84L152 104L146 122L160 130L166 160L150 190L124 206L100 192L84 160L84 130L100 122L94 104L108 84L102 72L106 60L114 52Z"/><g fill="none" stroke="#000" stroke-width="4"><path d="M108 68L90 45L74 30M138 68L158 50L172 35M100 88L84 68L82 55M142 88L160 68L162 55"/><path d="M95 108L85 100M148 108L162 100"/><path d="M86 130L78 150L84 175L92 248M160 130L168 150L164 175L156 254"/></g>`},
 {left:1060,top:5,w:110,h:92,vb:"0 0 330 276",body:`<g fill="#000"><ellipse cx="152" cy="143" rx="25" ry="21" transform="rotate(20 152 143)"/><ellipse cx="206" cy="165" rx="42" ry="30" transform="rotate(28 206 165)"/></g><g fill="none" stroke="#000" stroke-width="5" stroke-linecap="round"><path d="M150 125L84 63M165 122L153 57M175 132L237 95M205 138L293 165M135 150L40 148M140 160L68 195M155 165L125 208M172 178L255 262M135 132L115 138"/></g>`}
];
for(const ic of icons){
  const s=document.createElementNS("http://www.w3.org/2000/svg","svg");
  s.setAttribute("viewBox",ic.vb);s.setAttribute("width",ic.w);s.setAttribute("height",ic.h);
  s.style.left=ic.left+"px";s.style.top=ic.top+"px";
  s.innerHTML=ic.body;page.appendChild(s);
}
</script></body></html>
